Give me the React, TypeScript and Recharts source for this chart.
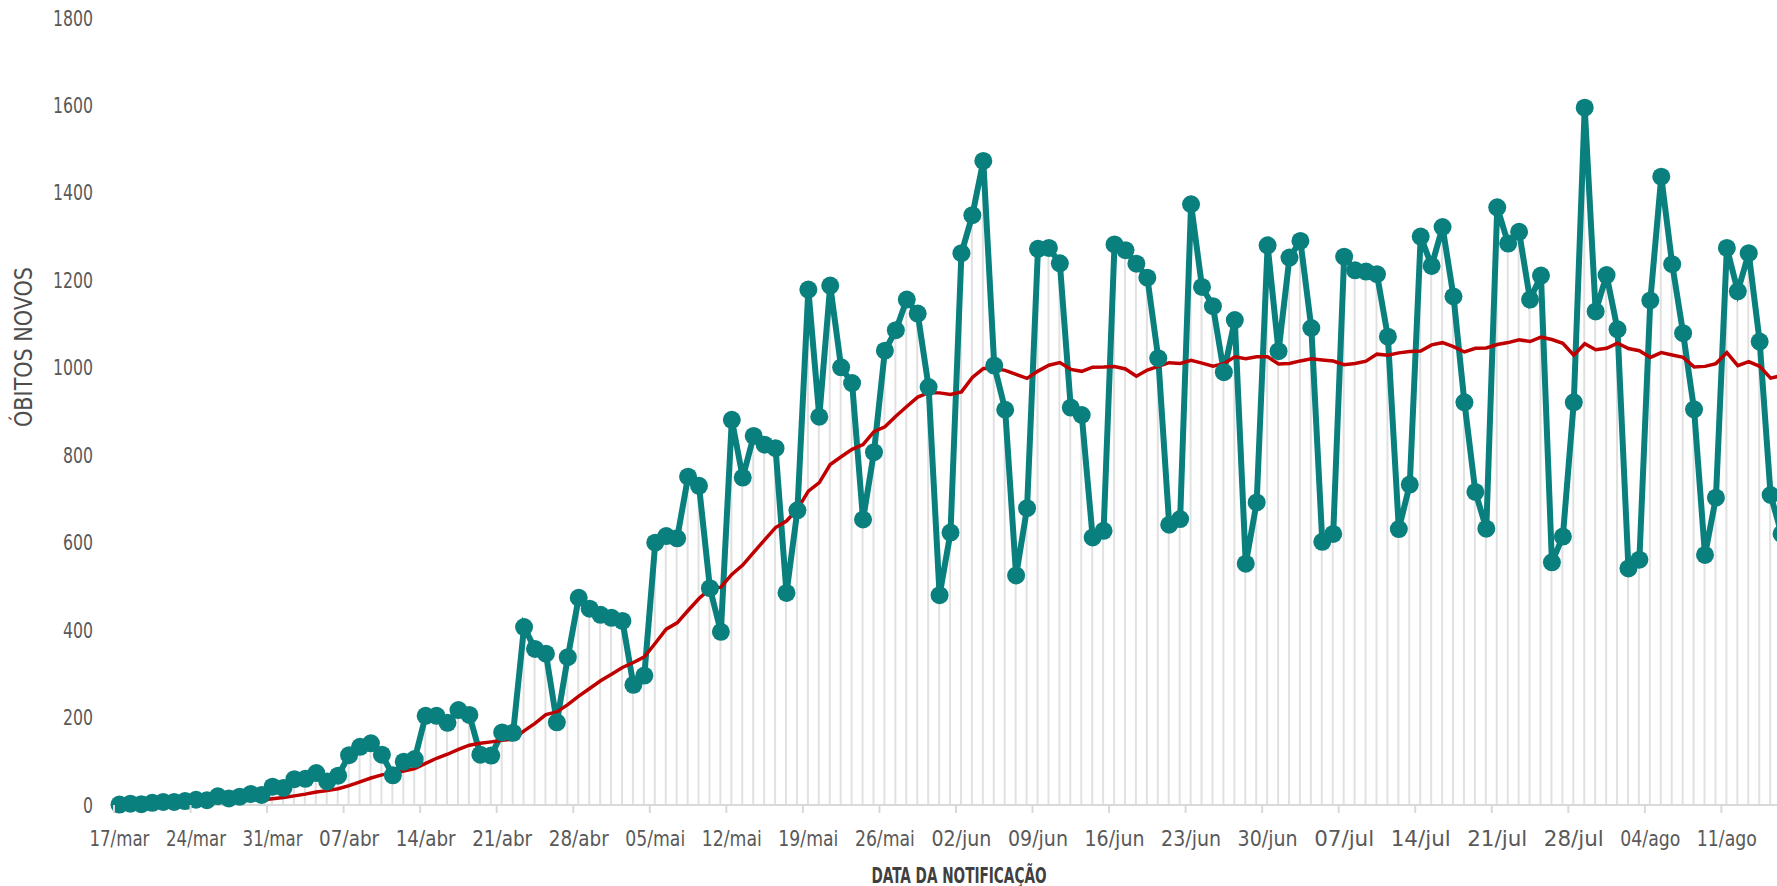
import React from "react";
import { ComposedChart, Line, Bar, XAxis, YAxis } from "recharts";

const MONTHS: [string, number, number][] = [
  ["mar", 17, 31],
  ["abr", 1, 30],
  ["mai", 1, 31],
  ["jun", 1, 30],
  ["jul", 1, 31],
  ["ago", 1, 16],
];

const DATES = MONTHS.flatMap(([m, from, to]) =>
  Array.from({ length: to - from + 1 }, (_, k) => `${String(from + k).padStart(2, "0")}/${m}`)
);

// óbitos novos por data de notificação
const OBITOS = [
  1, 3, 2, 5, 7, 7, 9, 12, 11, 20, 15, 19, 25, 23, 42,
  39, 59, 60, 73, 54, 67, 114, 133, 141, 115, 68, 99, 105, 204, 204, 188, 217, 206, 115, 113,
  166, 165, 407, 357, 346, 189, 338, 474, 449, 435,
  428, 421, 275, 296, 600, 615, 610, 751, 730, 496, 396, 881, 749, 844, 824, 816, 485, 674,
  1179, 888, 1188, 1001, 965, 653, 807, 1039, 1086, 1156, 1124, 956, 480,
  623, 1262, 1349, 1473, 1005, 904, 525, 679, 1272, 1274, 1239, 909, 892, 612, 627, 1282,
  1269, 1238, 1206, 1022, 641, 654, 1374, 1185, 1141, 990, 1109, 552, 692, 1280,
  1038, 1252, 1290, 1091, 602, 620, 1254, 1223, 1220, 1214, 1071, 631, 733, 1300, 1233,
  1322, 1163, 921, 716, 632, 1367, 1284, 1311, 1156, 1211, 555, 614, 921, 1595, 1129, 1212,
  1088, 541, 561, 1154, 1437, 1237, 1079, 905, 572, 703, 1274, 1175, 1262, 1060, 709, 620,
];

// média móvel (14 dias), começa em 30/mar
const MEDIA = [
  null, null, null, null, null, null, null, null, null, null, null, null, null,
  11.4, 14.3,
  16.9, 20.9, 24.9, 29.6, 32.9, 37.1, 44.4, 53.1, 61.7, 68.9, 72.4, 77.6, 83.5, 95.1, 106.9,
  116.1, 127.3, 136.8, 141.1, 144.4, 148.1, 150.4, 169.4, 186.7, 206.6, 213.0, 229.6, 248.9,
  266.4, 284.1,
  299.1, 314.5, 325.9, 339.0, 370.0, 402.1, 416.6, 444.8, 472.2, 494.1, 498.3, 527.4, 548.8,
  578.0, 606.3, 634.5, 649.5, 676.5, 717.9, 737.4, 778.6, 796.5, 813.3, 824.5, 853.9, 865.1,
  889.2, 911.5, 932.9, 942.9, 942.6,
  938.9, 944.9, 977.8, 998.1, 998.4, 994.1, 984.9, 975.8, 992.4, 1005.9, 1011.8, 996.4, 991.9,
  1001.3, 1001.6, 1003.0, 997.3, 980.5, 994.9, 1003.3, 1011.6, 1009.8, 1017.1, 1010.7, 1003.7,
  1009.5, 1025.0, 1020.7, 1025.4, 1025.2,
  1008.7, 1009.7, 1015.7, 1020.6, 1017.9, 1015.4, 1006.9, 1009.6, 1015.2, 1031.2, 1028.5,
  1034.1, 1037.1, 1038.5, 1052.4, 1057.4, 1048.4, 1036.2, 1044.4, 1045.2, 1053.3, 1057.6,
  1064.1, 1060.0, 1070.0, 1064.6, 1056.1, 1029.0, 1054.9, 1041.1, 1044.6,
  1056.5, 1044.0, 1038.9, 1023.7, 1034.6, 1029.4, 1023.9, 1002.0, 1003.2, 1009.6, 1034.8,
  1004.8, 1014.3, 1003.4, 976.4, 982.0,
];

const Y_TICKS = [0, 200, 400, 600, 800, 1000, 1200, 1400, 1600, 1800];

const data = DATES.map((date, i) => ({ date, obitos: OBITOS[i], media: MEDIA[i] }));

const TEAL = "#0a807e";
const RED = "#c00000";
const GRID = "#d9d9d9";
const TEXT = "#595959";
const FONT = "'Liberation Sans Narrow', 'DejaVu Sans Condensed', 'Roboto Condensed', sans-serif";

const W = 1800;
const H = 886;
const AXIS_Y = 805;
const X_HEIGHT = 30;
const MARGIN = { top: 18, right: 13, bottom: H - AXIS_Y - X_HEIGHT, left: 14 };
const Y_WIDTH = 100;
const BAND = (W - MARGIN.left - MARGIN.right - Y_WIDTH) / DATES.length;

function XTick({ x, payload }: any) {
  const left = x - BAND / 2;
  return (
    <g>
      <line x1={left} x2={left} y1={AXIS_Y} y2={AXIS_Y + 8} stroke={GRID} strokeWidth={2} />
      <text x={x} y={AXIS_Y + 34} textAnchor="middle" dominantBaseline="central" fill={TEXT} fontFamily={FONT} fontSize={21} textLength={60} lengthAdjust="spacingAndGlyphs">
        {payload.value}
      </text>
    </g>
  );
}

function YTick({ y, payload }: any) {
  const s = String(payload.value);
  return (
    <text x={93} y={y} textAnchor="end" dominantBaseline="central" fill={TEXT} fontFamily={FONT} fontSize={22} textLength={s.length * 10} lengthAdjust="spacingAndGlyphs">
      {s}
    </text>
  );
}

export default function App() {
  return (
    <div style={{ position: "fixed", left: 0, top: 0, width: 1777, height: 886, overflow: "hidden", background: "#fff" }}>
      <ComposedChart width={W} height={H} data={data} margin={MARGIN}>
        <XAxis
          dataKey="date"
          interval={6}
          height={X_HEIGHT}
          tickLine={false}
          axisLine={{ stroke: GRID, strokeWidth: 2 }}
          tick={<XTick />}
        />
        <YAxis
          domain={[0, 1800]}
          ticks={Y_TICKS}
          width={Y_WIDTH}
          axisLine={false}
          tickLine={false}
          tick={<YTick />}
        />
        <Line
          type="linear"
          dataKey="obitos"
          stroke={TEAL}
          strokeWidth={6}
          dot={{ r: 9, fill: TEAL, stroke: TEAL, strokeWidth: 0 }}
          activeDot={false}
          isAnimationActive={false}
        />
        <Line
          type="linear"
          dataKey="media"
          stroke={RED}
          strokeWidth={3.5}
          dot={false}
          activeDot={false}
          isAnimationActive={false}
        />
        <Bar dataKey="obitos" barSize={2} fill={GRID} fillOpacity={0.8} isAnimationActive={false} />
      </ComposedChart>
      <svg width={1777} height={886} style={{ position: "absolute", left: 0, top: 0, pointerEvents: "none" }}>
        <text
          x={959}
          y={875}
          textAnchor="middle"
          dominantBaseline="central"
          fill="#404040"
          fontFamily={FONT}
          fontWeight="bold"
          fontSize={22}
          textLength={175}
          lengthAdjust="spacingAndGlyphs"
        >
          DATA DA NOTIFICAÇÃO
        </text>
        <text
          transform="translate(24 347) rotate(-90)"
          textAnchor="middle"
          dominantBaseline="central"
          fill="#4d4d4d"
          fontFamily={FONT}
          fontSize={24}
          textLength={160}
          lengthAdjust="spacingAndGlyphs"
        >
          ÓBITOS NOVOS
        </text>
      </svg>
    </div>
  );
}
